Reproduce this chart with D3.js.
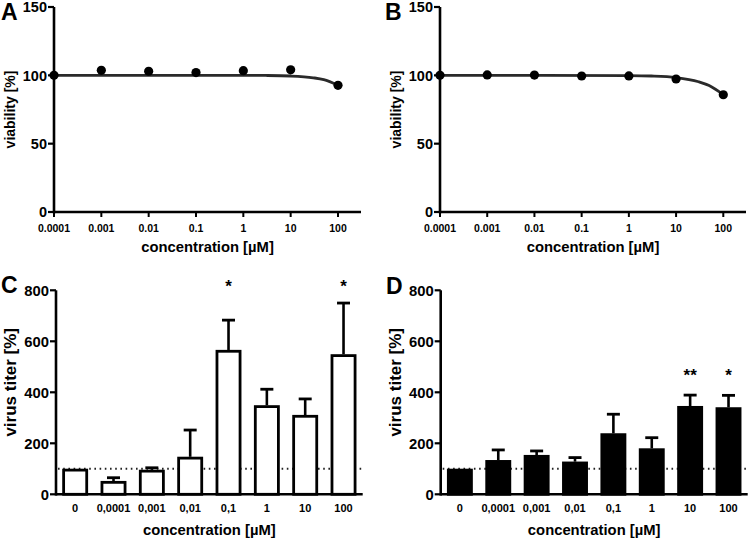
<!DOCTYPE html>
<html><head><meta charset="utf-8">
<script src="https://cdn.jsdelivr.net/npm/d3@7"></script>
<style>
body{margin:0;background:#fff;}
svg{font-family:"Liberation Sans",Arial,sans-serif;font-weight:bold;}
</style></head>
<body><svg id="c" width="750" height="539"></svg>
<script>
// ---- data ----
const concLog = [0.0001, 0.001, 0.01, 0.1, 1, 10, 100];
const concLogLabels = ["0.0001", "0.001", "0.01", "0.1", "1", "10", "100"];
const viabilityA = [100, 103.7, 103, 102, 103.4, 104, 92.7];
const viabilityB = [100, 100.3, 100.2, 99.5, 99.6, 97.3, 85.8];
const curveConc = [0.0001, 0.01, 1, 3, 10, 30, 50, 100];
const curveA = [100, 100, 100, 99.9, 99.5, 98.2, 96.8, 92.7];
const curveB = [100, 100, 99.8, 99.5, 98.4, 95.3, 92.5, 85.8];
const yTicksViab = [0, 50, 100, 150];

const barCats = ["0", "0,0001", "0,001", "0,01", "0,1", "1", "10", "100"];
const titerC = [100, 52, 96, 147, 566, 349, 311, 549];
const errTopC = [100, 65, 104, 252, 683, 412, 374, 750];
const starsC = ["", "", "", "", "*", "", "", "*"];
const titerD = [100, 134, 154, 128, 239, 180, 346, 341];
const errTopD = [100, 174, 170, 144, 314, 222, 389, 388];
const starsD = ["", "", "", "", "", "", "**", "*"];
const yTicksTiter = [0, 200, 400, 600, 800];

const svg = d3.select("#c");
const AX = 2.6;

function curvePanel(x0, x1, xEnd, yTop, yBot, vals, curve, letter, letterX) {
  const g = svg.append("g");
  const x = d3.scaleLog().domain([0.0001, 100]).range([x0, x1]);
  const y = d3.scaleLinear().domain([0, 150]).range([yBot, yTop]);
  // fitted curve
  g.append("path")
    .datum(curveConc.map((c, i) => [c, curve[i]]))
    .attr("fill", "none").attr("stroke", "#2a2a2a").attr("stroke-width", 2.8)
    .attr("d", d3.line().x(d => x(d[0])).y(d => y(d[1])).curve(d3.curveMonotoneX));
  // axes
  g.append("line").attr("x1", x0).attr("x2", x0).attr("y1", yTop).attr("y2", yBot + AX / 2)
    .attr("stroke", "#000").attr("stroke-width", AX);
  g.append("line").attr("x1", x0).attr("x2", xEnd).attr("y1", yBot).attr("y2", yBot)
    .attr("stroke", "#000").attr("stroke-width", AX);
  yTicksViab.forEach(t => {
    g.append("line").attr("x1", x0 - 6).attr("x2", x0).attr("y1", y(t)).attr("y2", y(t))
      .attr("stroke", "#000").attr("stroke-width", 2.2);
    g.append("text").attr("x", x0 - 7).attr("y", y(t)).attr("dy", "0.36em")
      .attr("text-anchor", "end").attr("font-size", 14.5).text(t);
  });
  concLog.forEach((c, i) => {
    g.append("line").attr("x1", x(c)).attr("x2", x(c)).attr("y1", yBot).attr("y2", yBot + 5)
      .attr("stroke", "#000").attr("stroke-width", 2);
    g.append("text").attr("x", x(c)).attr("y", yBot + 20)
      .attr("text-anchor", "middle").attr("font-size", 10.5).text(concLogLabels[i]);
  });
  // points
  g.selectAll("circle.p").data(vals).join("circle")
    .attr("cx", (d, i) => x(concLog[i])).attr("cy", d => y(d)).attr("r", 4.6).attr("fill", "#000");
  // titles
  g.append("text").attr("x", (x0 + xEnd) / 2).attr("y", yBot + 40).attr("text-anchor", "middle")
    .attr("font-size", 14.8).text("concentration [µM]");
  g.append("text").attr("transform", `translate(${x0 - 39},${(yTop + yBot) / 2}) rotate(-90)`)
    .attr("text-anchor", "middle").attr("font-size", 14).text("viability [%]");
  g.append("text").attr("x", letterX).attr("y", yTop + 13).attr("font-size", 23).text(letter);
}

function barPanel(x0, xEnd, yTop, yBot, vals, errs, stars, fill, letter, letterX, letterY, starY) {
  const g = svg.append("g");
  const x = d3.scaleBand().domain(barCats).range([x0, xEnd]).paddingInner(0.33).paddingOuter(0.165);
  const y = d3.scaleLinear().domain([0, 800]).range([yBot, yTop]);
  // dotted reference line
  g.append("line").attr("x1", x0 + 2).attr("x2", xEnd).attr("y1", y(100)).attr("y2", y(100))
    .attr("stroke", "#222").attr("stroke-width", 2).attr("stroke-dasharray", "1.6,3.6");
  // error bars
  barCats.forEach((c, i) => {
    const cx = x(c) + x.bandwidth() / 2;
    g.append("line").attr("x1", cx).attr("x2", cx).attr("y1", y(vals[i])).attr("y2", y(errs[i]))
      .attr("stroke", "#000").attr("stroke-width", 2.6);
    if (errs[i] > vals[i] + 1) {
      g.append("line").attr("x1", cx - 6.5).attr("x2", cx + 6.5).attr("y1", y(errs[i])).attr("y2", y(errs[i]))
        .attr("stroke", "#000").attr("stroke-width", 2.8);
    }
  });
  // bars
  g.selectAll("rect.b").data(vals).join("rect")
    .attr("x", (d, i) => x(barCats[i]) + 1.3).attr("width", x.bandwidth() - 2.6)
    .attr("y", d => y(d) + 1.3).attr("height", d => yBot - y(d) - 1.3)
    .attr("fill", fill).attr("stroke", "#000").attr("stroke-width", 2.8);
  // axes
  g.append("line").attr("x1", x0).attr("x2", x0).attr("y1", yTop).attr("y2", yBot + AX / 2)
    .attr("stroke", "#000").attr("stroke-width", AX);
  g.append("line").attr("x1", x0).attr("x2", xEnd).attr("y1", yBot).attr("y2", yBot)
    .attr("stroke", "#000").attr("stroke-width", AX);
  yTicksTiter.forEach(t => {
    g.append("line").attr("x1", x0 - 6).attr("x2", x0).attr("y1", y(t)).attr("y2", y(t))
      .attr("stroke", "#000").attr("stroke-width", 2.2);
    g.append("text").attr("x", x0 - 7).attr("y", y(t)).attr("dy", "0.36em")
      .attr("text-anchor", "end").attr("font-size", 14.8).text(t);
  });
  barCats.forEach((c, i) => {
    const cx = x(c) + x.bandwidth() / 2;
    g.append("text").attr("x", cx).attr("y", yBot + 18).attr("text-anchor", "middle")
      .attr("font-size", 11).text(c);
    if (stars[i]) g.append("text").attr("x", cx).attr("y", starY).attr("text-anchor", "middle")
      .attr("font-size", 17).text(stars[i]);
  });
  g.append("text").attr("x", (x0 + xEnd) / 2).attr("y", yBot + 41).attr("text-anchor", "middle")
    .attr("font-size", 14.8).text("concentration [µM]");
  g.append("text").attr("transform", `translate(${x0 - 40},${(yTop + yBot) / 2 - 10}) rotate(-90)`)
    .attr("text-anchor", "middle").attr("font-size", 17).text("virus titer [%]");
  g.append("text").attr("x", letterX).attr("y", letterY).attr("font-size", 23).text(letter);
}

curvePanel(54, 338, 361, 7, 212, viabilityA, curveA, "A", 1);
curvePanel(440, 723.3, 746, 7, 212, viabilityB, curveB, "B", 385);
barPanel(56, 362.7, 290.3, 494.3, titerC, errTopC, starsC, "#fff", "C", 1, 293, 292);
barPanel(440.7, 747.7, 290.3, 494.3, titerD, errTopD, starsD, "#000", "D", 386, 294, 381);
</script></body></html>
